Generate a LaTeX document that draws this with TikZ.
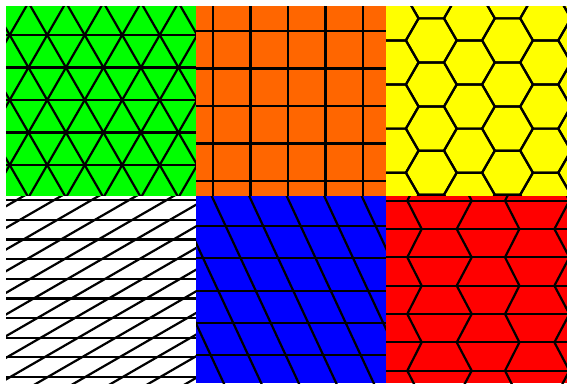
\documentclass[tikz,border=0pt]{standalone}
\definecolor{cgreen}{RGB}{0,255,0}
\definecolor{corange}{RGB}{255,102,0}
\definecolor{cyellow}{RGB}{255,255,0}
\definecolor{cblue}{RGB}{0,0,255}
\definecolor{cred}{RGB}{255,0,0}
\begin{document}
\begin{tikzpicture}[x=1pt,y=-1pt, tl/.style={line width=2.2pt, black, line cap=round, line join=round}]
\useasboundingbox (0,0) rectangle (567,383);
% ---- green triangles
\begin{scope}
\clip (6,6) rectangle (196,196);
\fill[cgreen] (6,6) rectangle (196,196);
\foreach \k in {-1,...,6} \draw[tl] (0,{35+32.5*\k}) -- (200,{35+32.5*\k});
\foreach \k in {-10,...,15} {
  \draw[tl] ({9.7+37.5*\k-18.75*8},{35-32.5*8}) -- ({9.7+37.5*\k+18.75*8},{35+32.5*8});
  \draw[tl] ({9.7+37.5*\k+18.75*8},{35-32.5*8}) -- ({9.7+37.5*\k-18.75*8},{35+32.5*8});
}
\end{scope}
% ---- orange squares
\begin{scope}
\clip (196,6) rectangle (386,196);
\fill[corange] (196,6) rectangle (386,196);
\foreach \k in {0,...,4} {
  \draw[tl] ({213+37.5*\k},0) -- ({213+37.5*\k},200);
  \draw[tl] (190,{31+37.5*\k}) -- (390,{31+37.5*\k});
}
\end{scope}
% ---- yellow hexagons
\begin{scope}
\clip (386,6) rectangle (567,196);
\fill[cyellow] (386,6) rectangle (567,196);
\foreach \j in {-2,...,6} {
  \foreach \k in {-2,...,5} {
    \pgfmathsetmacro\cx{431.3+38.1*\j}
    \pgfmathsetmacro\cy{84.5+44.1*\k-22.05*mod(abs(\j),2)}
    \draw[tl] ({\cx-25.4},\cy) -- ({\cx-12.7},{\cy-22.05}) -- ({\cx+12.7},{\cy-22.05})
      -- ({\cx+25.4},\cy) -- ({\cx+12.7},{\cy+22.05}) -- ({\cx-12.7},{\cy+22.05}) -- cycle;
  }
}
\end{scope}
% ---- white parallelograms
\begin{scope}
\clip (6,196) rectangle (196,383);
\fill[white] (6,196) rectangle (196,383);
\foreach \k in {0,...,9} \draw[tl] (0,{200.3+19.63*\k}) -- (200,{200.3+19.63*\k});
\foreach \k in {-5,...,15} \draw[tl] ({22+37.5*\k-300},{240.3+173.2}) -- ({22+37.5*\k+200},{240.3-115.5});
\end{scope}
% ---- blue parallelograms
\begin{scope}
\clip (196,196) rectangle (386,383);
\fill[cblue] (196,196) rectangle (386,383);
\foreach \k in {0,...,4} \draw[tl] (190,{226+32.3*\k}) -- (390,{226+32.3*\k});
\foreach \k in {-6,...,5} \draw[tl] ({211.7+37.5*\k-0.465*20},176) -- ({211.7+37.5*\k+0.465*210},406);
\end{scope}
% ---- red zigzag cells
\begin{scope}
\clip (386,196) rectangle (567,383);
\fill[cred] (386,196) rectangle (567,383);
\foreach \k in {-1,...,7} \draw[tl] (380,{200.7+28.33*\k}) -- (570,{200.7+28.33*\k});
\foreach \b in {309.6,407.3,505,602.7} {
  \draw[tl] ({\b+14.4},172.4) -- (\b,200.7) -- ({\b+14.4},229) -- (\b,257.3) -- ({\b+14.4},285.7)
    -- (\b,314) -- ({\b+14.4},342.3) -- (\b,370.7) -- ({\b+14.4},399);
}
\foreach \b in {374,471.7,569.4} {
  \draw[tl] ({\b-15},172.4) -- (\b,200.7) -- ({\b-15},229) -- (\b,257.3) -- ({\b-15},285.7)
    -- (\b,314) -- ({\b-15},342.3) -- (\b,370.7) -- ({\b-15},399);
}
\end{scope}
\end{tikzpicture}
\end{document}
